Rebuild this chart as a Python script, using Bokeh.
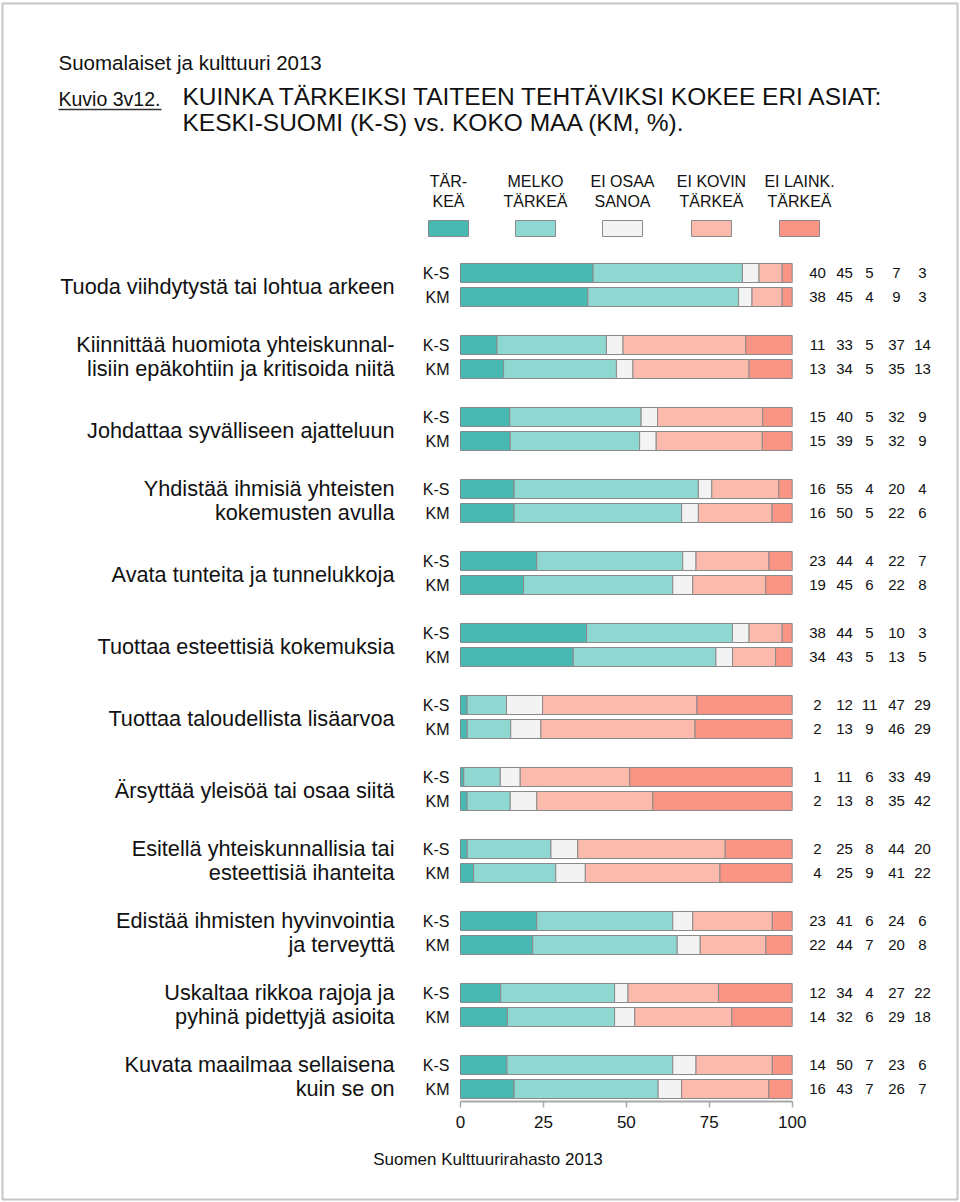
from bokeh.plotting import figure
from bokeh.models import Range1d, LinearAxis, FixedTicker, ColumnDataSource, Grid
from bokeh.core.properties import value
from bokeh.embed import file_html
from bokeh.resources import INLINE

# ---------------- data ----------------
categories = [
    "Tuoda viihdytystä tai lohtua arkeen",
    "Kiinnittää huomiota yhteiskunnal-\nlisiin epäkohtiin ja kritisoida niitä",
    "Johdattaa syvälliseen ajatteluun",
    "Yhdistää ihmisiä yhteisten\nkokemusten avulla",
    "Avata tunteita ja tunnelukkoja",
    "Tuottaa esteettisiä kokemuksia",
    "Tuottaa taloudellista lisäarvoa",
    "Ärsyttää yleisöä tai osaa siitä",
    "Esitellä yhteiskunnallisia tai\nesteettisiä ihanteita",
    "Edistää ihmisten hyvinvointia\nja terveyttä",
    "Uskaltaa rikkoa rajoja ja\npyhinä pidettyjä asioita",
    "Kuvata maailmaa sellaisena\nkuin se on",
]
regions = ["K-S", "KM"]
responses = ["TÄR-\nKEÄ", "MELKO\nTÄRKEÄ", "EI OSAA\nSANOA", "EI KOVIN\nTÄRKEÄ", "EI LAINK.\nTÄRKEÄ"]
ks_values = [
    [40, 45, 5, 7, 3], [11, 33, 5, 37, 14], [15, 40, 5, 32, 9], [16, 55, 4, 20, 4],
    [23, 44, 4, 22, 7], [38, 44, 5, 10, 3], [2, 12, 11, 47, 29], [1, 11, 6, 33, 49],
    [2, 25, 8, 44, 20], [23, 41, 6, 24, 6], [12, 34, 4, 27, 22], [14, 50, 7, 23, 6],
]
km_values = [
    [38, 45, 4, 9, 3], [13, 34, 5, 35, 13], [15, 39, 5, 32, 9], [16, 50, 5, 22, 6],
    [19, 45, 6, 22, 8], [34, 43, 5, 13, 5], [2, 13, 9, 46, 29], [2, 13, 8, 35, 42],
    [4, 25, 9, 41, 22], [22, 44, 7, 20, 8], [14, 32, 6, 29, 18], [16, 43, 7, 26, 7],
]
x_ticks = [0, 25, 50, 75, 100]
title_top = "Suomalaiset ja kulttuuri 2013"
figure_no = "Kuvio 3v12."
title_lines = ["KUINKA TÄRKEIKSI TAITEEN TEHTÄVIKSI KOKEE ERI ASIAT:",
               "KESKI-SUOMI (K-S) vs. KOKO MAA (KM, %)."]
source_text = "Suomen Kulttuurirahasto 2013"

# ---------------- styles / layout ----------------
colors = ["#47b9b2", "#8fd8d2", "#f3f3f3", "#fcbaad", "#fa9484"]
FONT = value("Liberation Sans")
TXT = "#111111"
W, H = 960, 1202
X0, PPU = 460.0, 3.317        # pixel of 0 %, pixels per percent


def px(xref):
    return (xref - X0) / PPU


p = figure(width=W, height=H, output_backend="svg", toolbar_location=None,
           x_range=Range1d(px(0), px(W)),
           y_range=Range1d(H, 0),
           x_axis_location=None, y_axis_location=None,
           min_border=0, min_border_left=0, min_border_right=0,
           min_border_top=0, min_border_bottom=0)
p.outline_line_color = None
p.background_fill_color = "white"
p.border_fill_color = "white"
for r in list(p.center):
    if isinstance(r, Grid):
        r.visible = False

# page frame
p.quad(left=[px(2)], right=[px(957)], top=[3], bottom=[1199], fill_color=None,
       line_color="#c6c6c6", line_width=2)

ROW0, GROUP_STEP, SUB_STEP = 272.5, 72.0, 24.0

bar = dict(left=[], right=[], y=[], color=[])
vals = dict(x=[], y=[], text=[])
reg = dict(x=[], y=[], text=[])
cat = dict(x=[], y=[], text=[])
col_x = [817, 844, 869, 896, 922]

for i, name in enumerate(categories):
    ys = []
    for j, (rname, data) in enumerate(zip(regions, (ks_values, km_values))):
        row = data[i]
        y = ROW0 + GROUP_STEP * i + SUB_STEP * j
        ys.append(y)
        total = float(sum(row))
        cum = 0.0
        for k, v in enumerate(row):
            share = v * 100.0 / total
            bar["left"].append(cum)
            bar["right"].append(cum + share)
            bar["y"].append(y)
            bar["color"].append(colors[k])
            cum += share
            vals["x"].append(px(col_x[k]))
            vals["y"].append(y)
            vals["text"].append(str(v))
        reg["x"].append(px(449))
        reg["y"].append(y)
        reg["text"].append(rname)
    lines = name.split("\n")
    if len(lines) == 1:
        cat["x"].append(px(394))
        cat["y"].append((ys[0] + ys[1]) / 2 + 1)
        cat["text"].append(lines[0])
    else:
        for ln, yy in zip(lines, ys):
            cat["x"].append(px(394))
            cat["y"].append(yy - 1)
            cat["text"].append(ln)

p.hbar(y="y", left="left", right="right", height=19, fill_color="color",
       line_color="#8a8a8a", line_width=1, source=ColumnDataSource(bar))

p.text(x="x", y="y", text="text", source=ColumnDataSource(vals), text_font=FONT,
       text_font_size="15px", text_align="center", text_baseline="middle", text_color=TXT)
p.text(x="x", y="y", text="text", source=ColumnDataSource(reg), text_font=FONT,
       text_font_size="16px", text_align="right", text_baseline="middle", text_color=TXT)
p.text(x="x", y="y", text="text", source=ColumnDataSource(cat), text_font=FONT,
       text_font_size="21.7px", text_align="right", text_baseline="middle", text_color=TXT)

# legend
leg_x = [448, 535, 622, 711, 799]
leg = dict(x=[], y=[], text=[])
for lx, lab in zip(leg_x, responses):
    for ln, yy in zip(lab.split("\n"), (181, 201)):
        leg["x"].append(px(lx))
        leg["y"].append(yy)
        leg["text"].append(ln)
p.text(x="x", y="y", text="text", source=ColumnDataSource(leg), text_font=FONT,
       text_font_size="16px", text_align="center", text_baseline="middle", text_color=TXT)
p.rect(x=[px(v) for v in leg_x], y=228, width=40, height=16, width_units="screen",
       height_units="screen", fill_color=colors, line_color="#8a8a8a", line_width=1)

# titles
p.text(x=[px(58)], y=[62], text=[title_top], text_font=FONT, text_font_size="20.5px",
       text_align="left", text_baseline="middle", text_color=TXT)
p.text(x=[px(58)], y=[98], text=[figure_no], text_font=FONT, text_font_size="19.5px",
       text_align="left", text_baseline="middle", text_color=TXT)
p.segment(x0=[px(58)], y0=[109], x1=[px(161)], y1=[109], line_color="#333333", line_width=1.3)
p.text(x=[px(182), px(182)], y=[95.5, 122], text=title_lines, text_font=FONT,
       text_font_size="24.5px", text_align="left", text_baseline="middle", text_color=TXT)

# source
p.text(x=[px(487.5)], y=[1159], text=[source_text], text_font=FONT, text_font_size="17px",
       text_align="center", text_baseline="middle", text_color=TXT)

# x axis
ax = LinearAxis(fixed_location=1101, bounds=(0, 100), ticker=FixedTicker(ticks=x_ticks))
ax.axis_line_color = "#a8a8a8"
ax.axis_line_width = 2
ax.major_tick_line_color = "#a8a8a8"
ax.major_tick_line_width = 1.5
ax.major_tick_out = 6
ax.major_tick_in = 0
ax.minor_tick_out = 0
ax.minor_tick_in = 0
ax.major_label_standoff = 8
ax.major_label_text_font = "Liberation Sans"
ax.major_label_text_font_size = "17px"
ax.major_label_text_color = TXT
p.add_layout(ax, "below")

open("out.html", "w").write(file_html(p, INLINE))
